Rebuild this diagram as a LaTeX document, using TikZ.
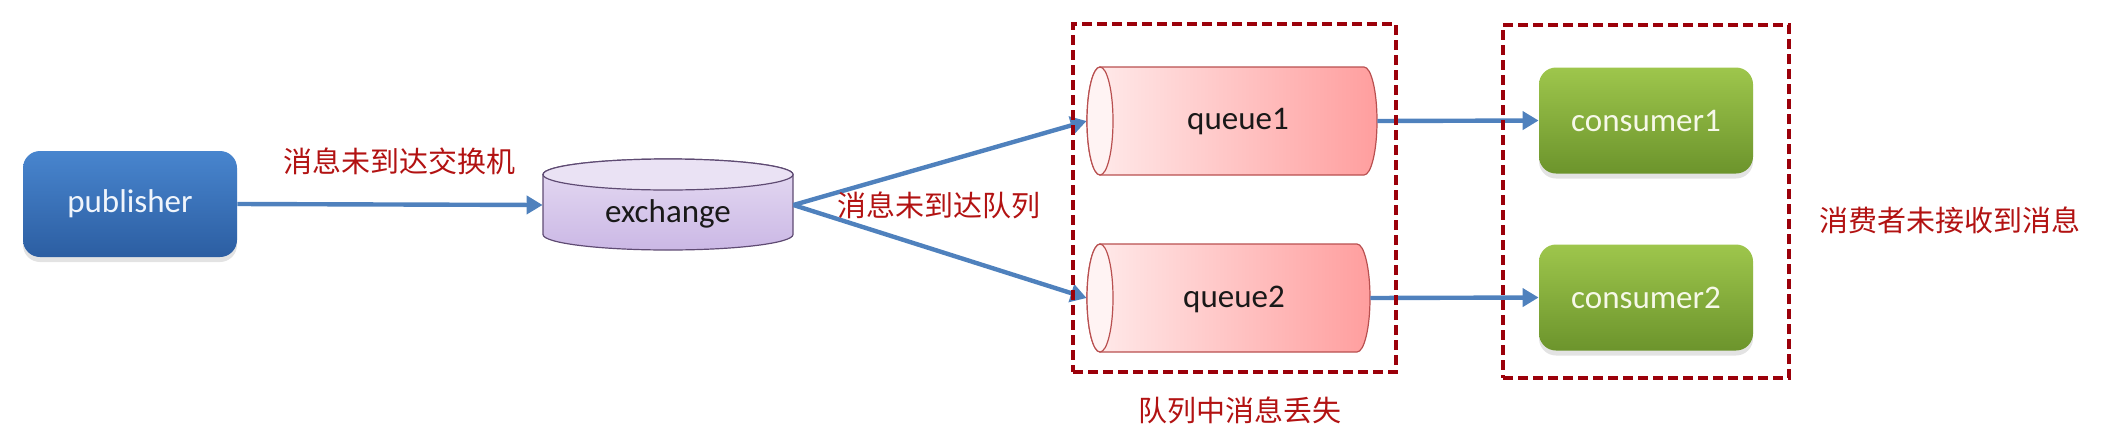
\documentclass[tikz,border=0pt]{standalone}
\usepackage{fontspec}
\setmainfont{Carlito}
\newfontfamily\cjk{Noto Sans CJK SC}
\usetikzlibrary{arrows.meta,shadows}
\definecolor{arrowblue}{RGB}{79,129,189}
\definecolor{pubtop}{RGB}{72,133,206}
\definecolor{pubbot}{RGB}{44,94,162}
\definecolor{pubtext}{RGB}{240,245,252}
\definecolor{constop}{RGB}{158,198,76}
\definecolor{consbot}{RGB}{108,148,44}
\definecolor{constext}{RGB}{246,248,232}
\definecolor{exline}{RGB}{95,75,115}
\definecolor{extop}{RGB}{234,226,244}
\definecolor{exlight}{RGB}{230,220,243}
\definecolor{exdark}{RGB}{203,184,229}
\definecolor{qline}{RGB}{185,80,80}
\definecolor{qleft}{RGB}{255,236,236}
\definecolor{qright}{RGB}{255,158,158}
\definecolor{qfront}{RGB}{255,243,243}
\definecolor{lblred}{RGB}{178,18,18}
\definecolor{dashred}{RGB}{155,0,10}
\begin{document}
\begin{tikzpicture}[x=0.5pt,y=-0.5pt,
  roundbox/.style={rounded corners=8.5pt, minimum width=107pt, minimum height=53pt,
    inner sep=0pt, font=\fontsize{16.5}{20}\selectfont,
    drop shadow={opacity=0.22,shadow xshift=0pt,shadow yshift=-2.5pt}},
  pubbox/.style={roundbox, top color=pubtop, bottom color=pubbot, text=pubtext},
  consbox/.style={roundbox, top color=constop, bottom color=consbot, text=constext},
  holder/.style={inner sep=0pt, font=\fontsize{16.5}{20}\selectfont, text=black!90},
  flow/.style={draw=arrowblue, line width=2.2pt, -{Triangle[length=8pt,width=9pt]}},
  dbox/.style={draw=dashred, line width=2pt, dash pattern=on 5pt off 2.5pt, inner sep=0pt},
  lbl/.style={inner sep=0pt, text=lblred, font=\cjk\fontsize{14.5}{17}\selectfont}]
\useasboundingbox (0,0) rectangle (2118,429);

% publisher
\node[pubbox] (pub) at (130,204) {publisher};

% exchange cylinder (vertical)
\path[draw=exline, line width=0.6pt, top color=exlight, bottom color=exdark]
  (543,174.5) -- (543,234.5)
  arc[start angle=180,end angle=360,x radius=62.5pt,y radius=7.75pt]
  -- (793,174.5)
  arc[start angle=0,end angle=180,x radius=62.5pt,y radius=7.75pt] -- cycle;
\path[draw=exline, line width=0.6pt, fill=extop]
  (668,174.5) ellipse[x radius=62.5pt, y radius=7.75pt];
\node[inner sep=0pt, minimum width=125pt, minimum height=40pt] (ex) at (668,205) {};
\node[holder] (extext) at (668,214) {exchange};

% queue1 cylinder (horizontal)
\path[draw=qline, line width=0.6pt, left color=qleft, right color=qright]
  (1100,67) -- (1364,67)
  arc[start angle=90,end angle=-90,x radius=6.5pt,y radius=27pt]
  -- (1100,175)
  arc[start angle=270,end angle=90,x radius=6.5pt,y radius=27pt] -- cycle;
\path[draw=qline, line width=0.6pt, fill=qfront]
  (1100,121) ellipse[x radius=6.5pt, y radius=27pt];
\node[holder, minimum width=145pt, minimum height=54pt] (q1) at (1232,121) {};
\node[holder] (q1text) at (1238,122) {queue1};

% queue2 cylinder (horizontal)
\path[draw=qline, line width=0.6pt, left color=qleft, right color=qright]
  (1100,244) -- (1357,244)
  arc[start angle=90,end angle=-90,x radius=6.5pt,y radius=27pt]
  -- (1100,352)
  arc[start angle=270,end angle=90,x radius=6.5pt,y radius=27pt] -- cycle;
\path[draw=qline, line width=0.6pt, fill=qfront]
  (1100,298) ellipse[x radius=6.5pt, y radius=27pt];
\node[holder, minimum width=141.5pt, minimum height=54pt] (q2) at (1228.5,298) {};
\node[holder] (q2text) at (1234,299) {queue2};

% consumers
\node[consbox] (c1) at (1646,120.5) {consumer1};
\node[consbox] (c2) at (1646,297.5) {consumer2};

% connectors
\draw[flow] (pub.east) -- (ex.west);
\draw[flow] (ex.east) -- (q1.west);
\draw[flow] (ex.east) -- (q2.west);
\draw[flow] (q1.east) -- (c1.west);
\draw[flow] (q2.east) -- (c2.west);

% dashed groups
\node[dbox, minimum width=161.5pt, minimum height=174pt] (box1) at (1234.5,198) {};
\node[dbox, minimum width=143pt, minimum height=176.5pt] (box2) at (1646,201.5) {};

% labels
\node[lbl] (l1) at (399,161.5) {消息未到达交换机};
\node[lbl] (l2) at (939,205) {消息未到达队列};
\node[lbl] (l3) at (1240,410) {队列中消息丢失};
\node[lbl] (l4) at (1950,220) {消费者未接收到消息};
\end{tikzpicture}
\end{document}
